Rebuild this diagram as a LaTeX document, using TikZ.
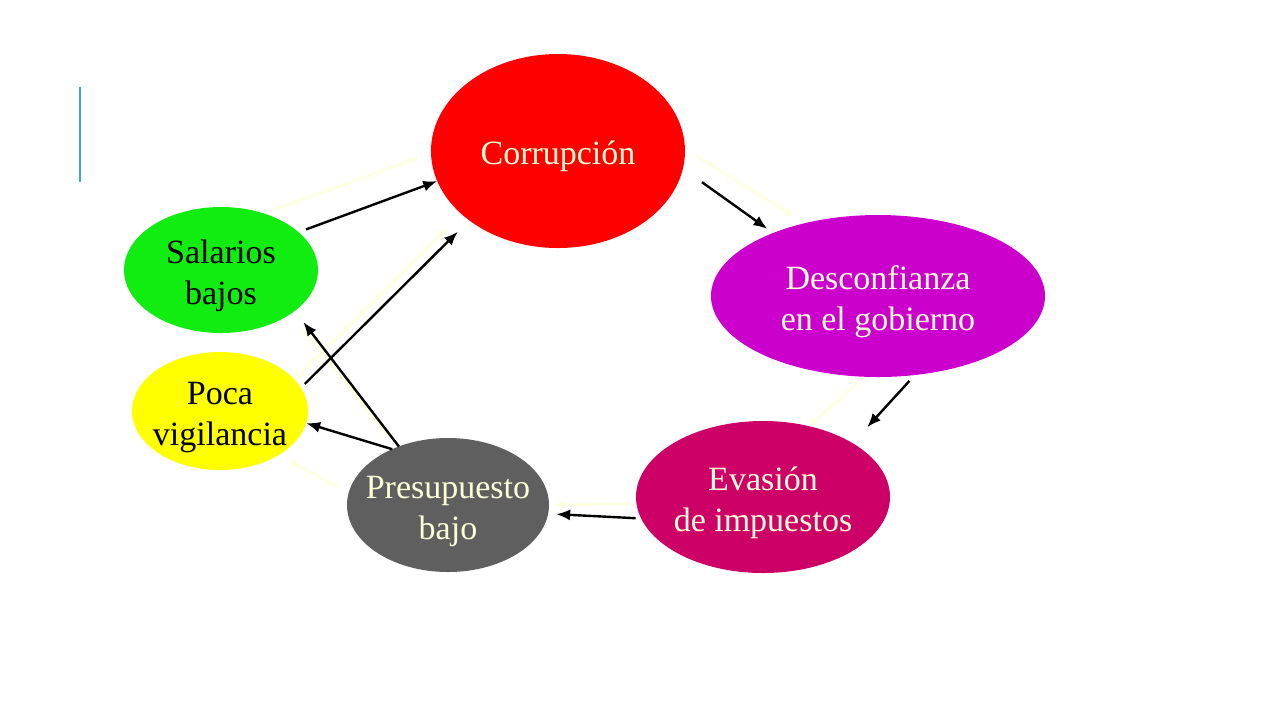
\documentclass[tikz,border=0pt]{standalone}
\usepackage{fontspec}
\setmainfont{Liberation Serif}
\usetikzlibrary{shapes.geometric,arrows.meta}
\definecolor{faint}{RGB}{255,255,225}
\definecolor{cream}{RGB}{255,255,215}
\definecolor{accent}{RGB}{59,168,208}
\definecolor{cred}{RGB}{255,0,0}
\definecolor{cpurple}{RGB}{204,0,204}
\definecolor{cmagenta}{RGB}{204,0,102}
\definecolor{cgray}{RGB}{95,95,95}
\definecolor{cyellow}{RGB}{255,255,0}
\definecolor{cgreen}{RGB}{17,236,17}
\newcommand\blobtext[1]{\smash{\raisebox{-0.42em}{\makebox[0pt]{\begin{tabular}{@{}c@{}}#1\end{tabular}}}}}
\begin{document}
\begin{tikzpicture}[x=0.5pt,y=-0.5pt,
  blob/.style={ellipse,inner sep=0pt,outer sep=0pt,
    font=\fontsize{17pt}{20.3pt}\selectfont},
  link/.style={line width=1.2pt,-{Latex[length=7pt,width=5.5pt]}},
  ghost/.style={line width=1.5pt,color=faint,-{Triangle[length=4pt,width=4.5pt]}}]
\useasboundingbox (0,0) rectangle (1280,720);
\fill[white] (0,0) rectangle (1280,720);
\draw[accent,line width=1.2pt] (80,87) -- (80,182);

\node[blob,fill=cred,text=cream,minimum width=127pt,minimum height=97pt] (cor) at (558,151) {\blobtext{Corrupción}};
\node[blob,fill=cpurple,text=cream,minimum width=167pt,minimum height=81pt] (des) at (878,296) {\blobtext{Desconfianza\\en el gobierno}};
\node[blob,fill=cmagenta,text=cream,minimum width=127pt,minimum height=76pt] (eva) at (763,497) {\blobtext{Evasión\\de impuestos}};
\node[blob,fill=cgray,text=cream,minimum width=101pt,minimum height=67pt] (pre) at (448,505) {\blobtext{Presupuesto\\bajo}};
\node[blob,fill=cyellow,text=black,minimum width=88pt,minimum height=59pt] (poc) at (220,411) {\blobtext{Poca\\vigilancia}};
\node[blob,fill=cgreen,text=black,minimum width=97pt,minimum height=63pt] (sal) at (221,270) {\blobtext{Salarios\\bajos}};

% faint connectors
\draw[ghost,shorten <=5.3pt,shorten >=7pt] (sal.53) -- (cor.181.6);
\draw[ghost,shorten >=11.3pt] (poc.23) -- (cor.213.5);
\draw[ghost,shorten <=6pt,shorten >=7pt] (cor.1.2) -- (des.135);
\draw[ghost,shorten <=1.7pt] (des.260.8) -- (eva.57.3);
\draw[ghost,shorten <=3.3pt,shorten >=3pt] (eva.183.4) -- (pre.0);
\draw[ghost,shorten <=6.6pt,shorten >=6pt] (pre.173.9) -- (poc.323.5);
\draw[ghost,shorten <=7.5pt,shorten >=8.7pt] (pre.132.8) -- (sal.328.8);

% black connectors
\draw[link,shorten <=4pt] (sal.26) -- (cor.194);
\draw[link,shorten <=2.75pt,shorten >=8pt] (poc.16) -- (cor.218);
\draw[link,shorten <=11.7pt,shorten >=3.5pt] (cor.352) -- (des.149);
\draw[link,shorten <=4pt,shorten >=10.75pt] (des.295.5) -- (eva.31);
\draw[link,shorten <=2.8pt,shorten >=4pt] (eva.190) -- (pre.355);
\draw[link] (pre.135.5) -- (poc.352);
\draw[link,shorten >=7pt] (pre.130) -- (sal.331);
\end{tikzpicture}
\end{document}
